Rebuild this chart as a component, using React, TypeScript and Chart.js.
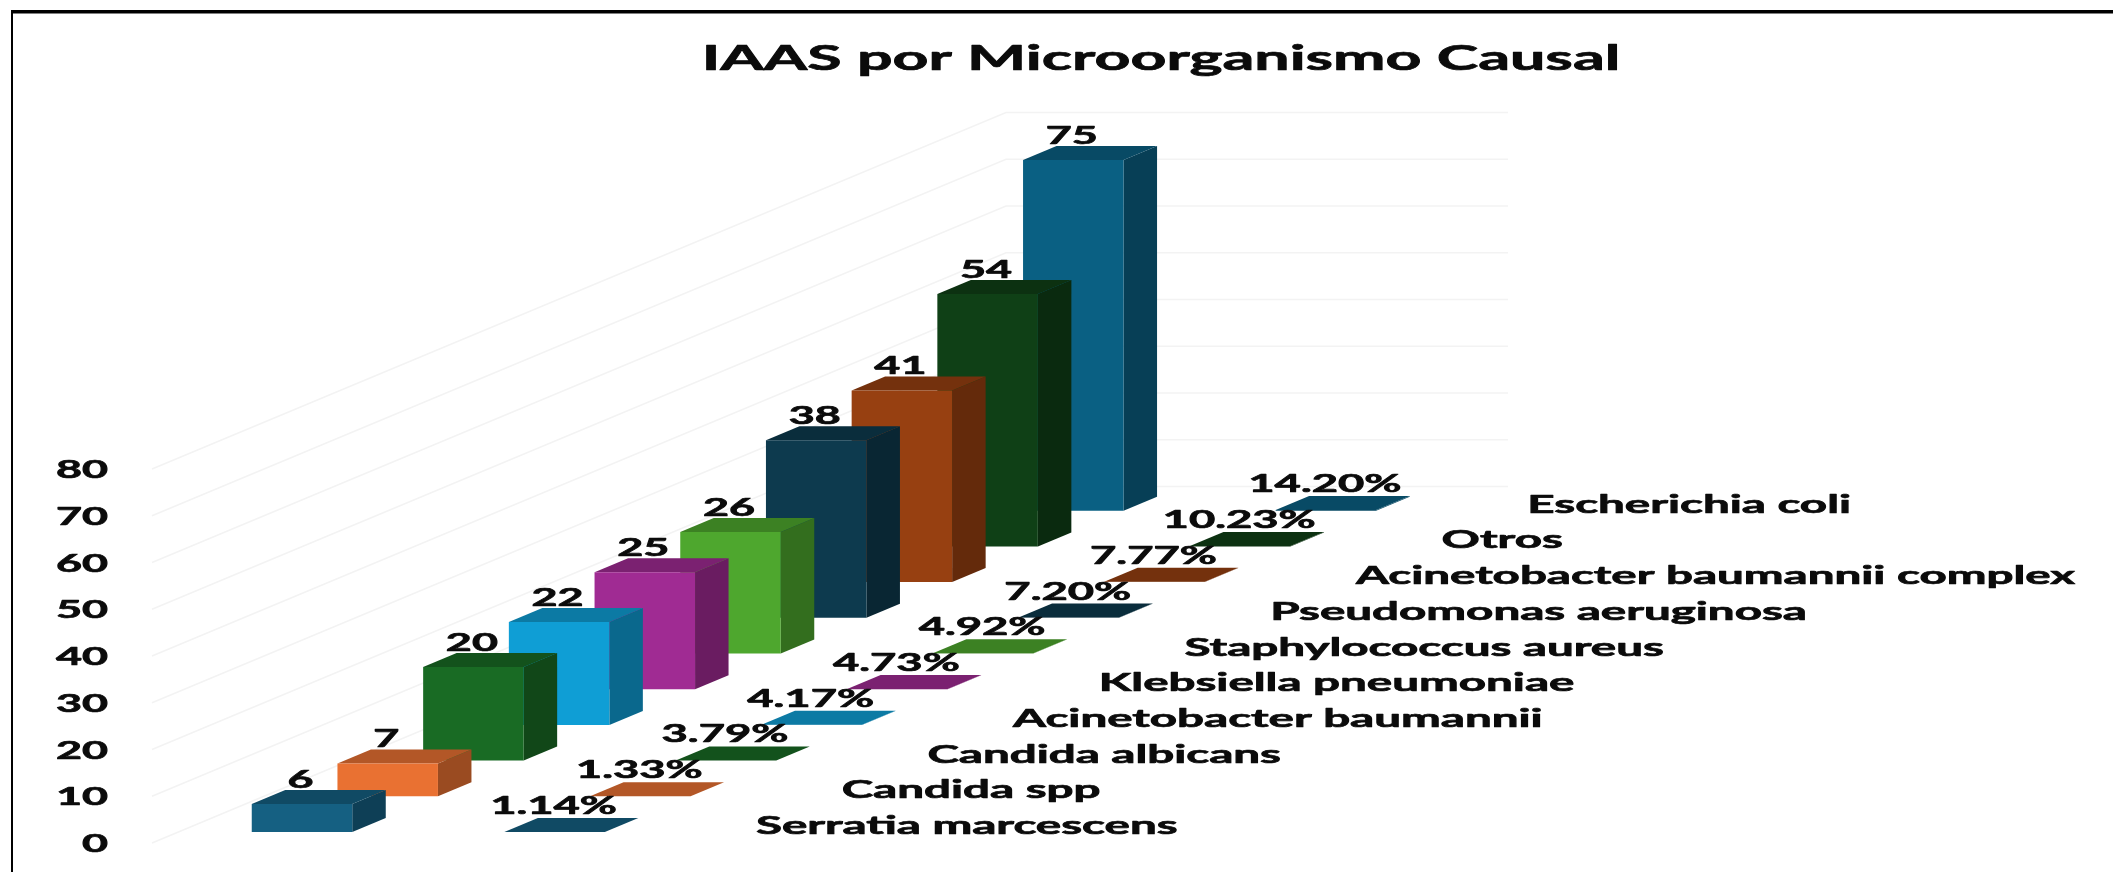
import React, { useEffect, useRef } from "react";
import { Chart, registerables } from "chart.js";

Chart.register(...registerables);

const TITLE = "IAAS por Microorganismo Causal";
const categories = [
  "Serratia marcescens",
  "Candida spp",
  "Candida albicans",
  "Acinetobacter baumannii",
  "Klebsiella pneumoniae",
  "Staphylococcus aureus",
  "Pseudomonas aeruginosa",
  "Acinetobacter baumannii complex",
  "Otros",
  "Escherichia coli",
];
const counts = [6, 7, 20, 22, 25, 26, 38, 41, 54, 75];
const shares = [0.0114, 0.0133, 0.0379, 0.0417, 0.0473, 0.0492, 0.072, 0.0777, 0.1023, 0.142];
const colors = [
  "#156082", "#E97132", "#196B24", "#0F9ED5", "#A02B93",
  "#4EA72E", "#0D3A4E", "#974011", "#0F4016", "#0A6083",
];

const W = 2113;
const H = 872;
const FONT_FAMILY = "Lato, 'Open Sans', sans-serif";
const STEP_Y = 35.7;
const FRONT_SHIFT = -11;
const ROW2_SHIFT = 252.6;
const BAR_DEPTH = { x: 33.5, y: -14 };
const WALL = { x: 854, y: -356.5, end: 1508, start: 152 };
const GRID_COLOR = "#f3f3f3";

function shade(hex: string, k: number) {
  const n = parseInt(hex.slice(1), 16);
  const r = Math.round(((n >> 16) & 255) * k);
  const g = Math.round(((n >> 8) & 255) * k);
  const b = Math.round((n & 255) * k);
  return `rgb(${r},${g},${b})`;
}

function stretched(
  ctx: CanvasRenderingContext2D,
  text: string,
  x: number,
  y: number,
  size: number,
  sx: number,
  align: CanvasTextAlign
) {
  ctx.save();
  ctx.font = `700 ${size}px ${FONT_FAMILY}`;
  ctx.fillStyle = "#0b0b0b";
  ctx.strokeStyle = "#0b0b0b";
  ctx.lineWidth = 0.7;
  ctx.lineJoin = "round";
  ctx.textAlign = align;
  ctx.textBaseline = "middle";
  ctx.translate(x, y);
  ctx.scale(sx, 1);
  ctx.fillText(text, 0, 0);
  ctx.strokeText(text, 0, 0);
  ctx.restore();
}

function poly(ctx: CanvasRenderingContext2D, pts: number[][], fill: string) {
  ctx.fillStyle = fill;
  ctx.beginPath();
  pts.forEach((p, i) => (i ? ctx.lineTo(p[0], p[1]) : ctx.moveTo(p[0], p[1])));
  ctx.closePath();
  ctx.fill();
}

function box(
  ctx: CanvasRenderingContext2D,
  el: any,
  dx: number,
  dy: number,
  front: string,
  side: string,
  top: string
) {
  const l = el.x - el.width / 2 + dx;
  const r = el.x + el.width / 2 + dx;
  const t = el.y + dy;
  const b = el.base + dy;
  const d = BAR_DEPTH;
  poly(ctx, [[r, t], [r + d.x, t + d.y], [r + d.x, b + d.y], [r, b]], side);
  poly(ctx, [[l, t], [l + d.x, t + d.y], [r + d.x, t + d.y], [r, t]], top);
  poly(ctx, [[l, t], [r, t], [r, b], [l, b]], front);
}

const scene3d = {
  id: "scene3d",
  beforeDatasetDraw() {
    return false;
  },
  beforeDatasetsDraw(chart: any) {
    const ctx: CanvasRenderingContext2D = chart.ctx;
    const y = chart.scales.y;
    ctx.save();
    ctx.fillStyle = "#ffffff";
    ctx.fillRect(0, 0, W, H);

    // frame
    ctx.fillStyle = "#000000";
    ctx.fillRect(11, 10, W - 11, 3.5);
    ctx.fillRect(11, 10, 2, H - 10);

    // wall grid lines, from the value scale
    ctx.strokeStyle = GRID_COLOR;
    ctx.lineWidth = 1.5;
    y.ticks.forEach((tick: any) => {
      const py = y.getPixelForValue(tick.value);
      ctx.beginPath();
      ctx.moveTo(WALL.start, py);
      ctx.lineTo(WALL.start + WALL.x, py + WALL.y);
      ctx.lineTo(WALL.end, py + WALL.y);
      ctx.stroke();
      stretched(ctx, String(tick.value), 108, py + 1.5, 24, 1.87, "right");
    });

    const barsMeta = chart.getDatasetMeta(0).data;
    const tilesMeta = chart.getDatasetMeta(1).data;
    for (let i = categories.length - 1; i >= 0; i--) {
      const dy = FRONT_SHIFT - STEP_Y * i;
      const c = colors[i];
      const tileColor = shade(c, 0.77);
      box(ctx, tilesMeta[i], ROW2_SHIFT, dy, tileColor, tileColor, tileColor);
      box(ctx, barsMeta[i], 0, dy, c, shade(c, 0.66), shade(c, 0.77));
    }

    // labels
    categories.forEach((name, i) => {
      const dy = FRONT_SHIFT - STEP_Y * i;
      const bar = barsMeta[i];
      const tile = tilesMeta[i];
      const depthTop = bar.y + dy + BAR_DEPTH.y;
      stretched(ctx, String(counts[i]), bar.x - 1.5, depthTop - 10, 24, 1.87, "center");
      stretched(
        ctx,
        (shares[i] * 100).toFixed(2) + "%",
        tile.x + ROW2_SHIFT - 1,
        tile.base + dy - 26,
        24,
        1.89,
        "center"
      );
      const px = chart.scales.x.getPixelForValue(i);
      stretched(ctx, name, px - 50 + 504, tile.base + dy - 6, 25, 1.9, "left");
    });

    stretched(ctx, TITLE, 1161, 59, 35, 1.79, "center");
    ctx.restore();
  },
};

export default function App() {
  const ref = useRef<HTMLCanvasElement>(null);
  useEffect(() => {
    document.body.style.margin = "0";
    document.body.style.overflow = "hidden";
    const chart = new Chart(ref.current as HTMLCanvasElement, {
      type: "bar",
      data: {
        labels: categories,
        datasets: [
          { label: "Casos", data: counts, backgroundColor: colors, grouped: false, barThickness: 100.5 } as any,
          { label: "Porcentaje", data: shares, backgroundColor: colors, grouped: false, barThickness: 100.5 } as any,
        ],
      },
      options: {
        responsive: false,
        animation: false,
        layout: { padding: { left: 259.15, right: W - 1116.15, top: 469, bottom: H - 843 } },
        plugins: { legend: { display: false }, title: { display: false }, tooltip: { enabled: false } },
        scales: {
          x: { display: false },
          y: { display: false, min: 0, max: 80, ticks: { stepSize: 10 } },
        },
      },
      plugins: [scene3d],
    });
    return () => chart.destroy();
  }, []);
  return <canvas ref={ref} width={W} height={H} style={{ display: "block", filter: "blur(0.6px)" }} />;
}
